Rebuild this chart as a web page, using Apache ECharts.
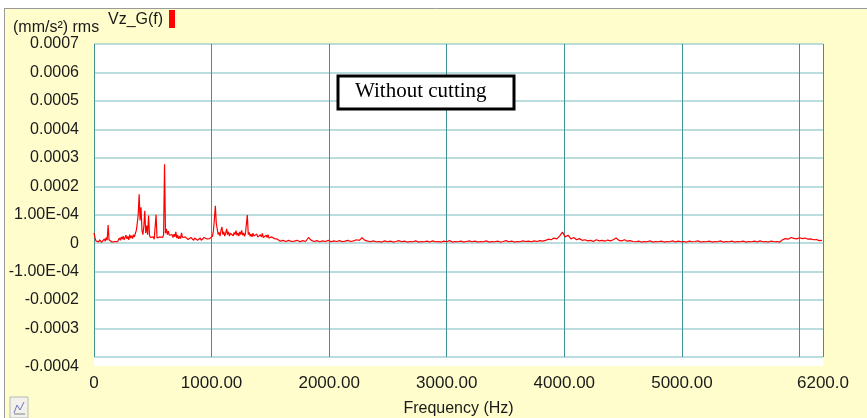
<!DOCTYPE html>
<html>
<head>
<meta charset="utf-8">
<script src="https://cdn.jsdelivr.net/npm/echarts@6/dist/echarts.min.js"></script>
<style>
  html, body { margin: 0; padding: 0; background: #ffffff; }
  #chart { width: 867px; height: 418px; }
</style>
</head>
<body>
<div id="chart"></div>
<script>
// ---- Data (amplitudes in units of 1e-4 (mm/s²) rms) ----
// Low band: FFT bins from 0 Hz, 8 Hz apart
const lowBandStartHz = 0;
const lowBandStepHz = 8;
const lowBandAmpE4 = [
  0.36,0.2,0.08,0.05,0.1,0.04,0.12,0.06,0.03,0.08,
  0.05,0.15,0.07,0.2,0.1,0.64,0.12,0.05,0.1,0.04,
  0.08,0.03,0.06,0.04,0.1,0.05,0.12,0.18,0.1,0.22,
  0.14,0.25,0.12,0.2,0.28,0.15,0.24,0.12,0.3,0.18,
  0.26,0.16,0.3,0.22,0.35,0.45,0.7,1.0,1.72,0.8,
  1.26,0.45,0.3,0.6,1.14,0.35,0.62,0.3,0.97,0.28,
  0.2,0.26,0.15,0.22,0.14,0.2,1.0,0.18,0.25,0.15,
  0.22,0.18,0.28,0.2,0.3,2.77,0.35,0.5,0.3,0.42,
  0.28,0.35,0.22,0.3,0.2,0.32,0.22,0.4,0.18,0.28,
  0.15,0.24,0.16,0.36,0.2,0.26,0.14,0.22,0.15,0.2,
  0.13,0.18,0.12,0.2,0.14,0.17,0.1,0.18,0.12,0.16,
  0.1,0.15,0.12,0.18,0.1,0.16,0.12,0.2,0.14,0.24,
  0.15,0.2,0.12,0.16,0.1,0.15,0.25,0.45,0.85,1.31,
  0.7,0.5,0.3,0.38,0.25,0.45,0.57,0.3,0.4,0.25,
  0.35,0.5,0.3,0.4,0.25,0.35,0.28,0.42,0.26,0.38,
  0.3,0.44,0.27,0.36,0.25,0.4,0.3,0.45,0.28,0.36,
  0.24,0.34,0.28,0.99,0.3,0.38,0.24,0.32,0.22,0.35,
  0.25,0.3,0.2,0.32,0.22,0.28,0.2,0.3,0.22,0.34,
  0.2,0.26,0.18,0.28,0.2,0.3,0.18,0.25,0.17,0.22,
  0.15,0.24,0.16,0.2,0.12,0.14,0.08,0.12,0.07,0.1,
  0.06,0.1,0.07,0.11,0.06,0.09,0.05,0.1,0.07,0.12,
  0.06,0.09,0.05
];
// High band: FFT bins from 1704 Hz, 24 Hz apart
const highBandStartHz = 1704;
const highBandStepHz = 24;
const highBandAmpE4 = [
  0.07,0.1,0.05,0.09,0.06,0.2,0.1,0.06,0.09,0.05,
  0.08,0.06,0.1,0.05,0.08,0.06,0.09,0.05,0.07,0.1,
  0.06,0.08,0.12,0.1,0.19,0.1,0.07,0.05,0.08,0.05,
  0.06,0.04,0.08,0.05,0.07,0.04,0.06,0.09,0.05,0.07,
  0.04,0.06,0.05,0.08,0.04,0.06,0.05,0.07,0.04,0.08,
  0.05,0.06,0.04,0.07,0.05,0.09,0.04,0.06,0.05,0.07,
  0.04,0.06,0.08,0.05,0.07,0.04,0.06,0.05,0.08,0.04,
  0.06,0.05,0.07,0.04,0.06,0.09,0.05,0.07,0.04,0.06,
  0.05,0.08,0.06,0.07,0.05,0.08,0.06,0.09,0.07,0.1,
  0.14,0.12,0.18,0.15,0.25,0.39,0.22,0.28,0.15,0.2,
  0.12,0.16,0.1,0.12,0.08,0.1,0.06,0.12,0.08,0.1,
  0.07,0.11,0.08,0.12,0.18,0.1,0.08,0.12,0.07,0.09,
  0.06,0.05,0.07,0.04,0.06,0.05,0.08,0.04,0.06,0.05,
  0.07,0.04,0.06,0.05,0.08,0.04,0.07,0.05,0.06,0.04,
  0.07,0.05,0.06,0.08,0.04,0.06,0.05,0.07,0.04,0.06,
  0.05,0.08,0.04,0.06,0.05,0.07,0.04,0.06,0.05,0.07,
  0.04,0.06,0.05,0.07,0.04,0.08,0.05,0.06,0.04,0.07,
  0.05,0.06,0.04,0.12,0.16,0.14,0.2,0.17,0.15,0.19,
  0.16,0.18,0.14,0.15,0.12,0.13,0.09,0.1
];

// ---- Axis ticks and labels ----
const yTickValues = [-4,-3,-2,-1,0,1,2,3,4,5,6,7]; // x 1e-4
const yTickLabels = ['-0.0004','-0.0003','-0.0002','-1.00E-04','0','1.00E-04','0.0002','0.0003','0.0004','0.0005','0.0006','0.0007'];
const xTickValues = [0,1000,2000,3000,4000,5000,6000,6200];
const xTickLabels = ['0','1000.00','2000.00','3000.00','4000.00','5000.00','','6200.0'];

const unitLabel = '(mm/s\u00B2) rms';
const seriesName = 'Vz_G(f)';
const xAxisName = 'Frequency (Hz)';
const noteText = 'Without cutting';

// ---- Build series points ----
const points = [];
lowBandAmpE4.forEach((a, i) => points.push([lowBandStartHz + i * lowBandStepHz, a * 1e-4]));
highBandAmpE4.forEach((a, i) => points.push([highBandStartHz + i * highBandStepHz, a * 1e-4]));

const FONT = '"Liberation Sans", Arial, sans-serif';
const chart = echarts.init(document.getElementById('chart'), null, { renderer: 'canvas' });

chart.setOption({
  animation: false,
  backgroundColor: '#FFFDCC',
  grid: {
    left: 94, right: 44, top: 44, bottom: 61,
    containLabel: false,
    outerBoundsMode: 'none',
    show: true, backgroundColor: '#ffffff', borderWidth: 0
  },
  xAxis: {
    type: 'value',
    min: 0, max: 6200, interval: 1000,
    name: xAxisName,
    nameLocation: 'middle',
    nameGap: 44,
    nameTextStyle: { fontFamily: FONT, fontSize: 16, color: '#1a1a1a' },
    axisLine: { show: false },
    axisTick: { show: true, inside: false, length: 9, lineStyle: { color: '#3E9494', width: 1 } },
    axisLabel: {
      margin: 18,
      fontFamily: FONT, fontSize: 17, color: '#1a1a1a',
      showMinLabel: true, showMaxLabel: true,
      formatter: function (v) {
        const i = xTickValues.indexOf(Math.round(v));
        return i >= 0 ? xTickLabels[i] : '';
      }
    },
    splitLine: { show: true, lineStyle: { color: '#3E9494', width: 1 } }
  },
  yAxis: {
    type: 'value',
    min: -0.0004, max: 0.0007, interval: 0.0001,
    axisLine: { show: false },
    axisTick: { show: false },
    axisLabel: {
      margin: 15,
      fontFamily: FONT, fontSize: 16, color: '#1a1a1a',
      formatter: function (v) {
        const k = Math.round(v * 1e4);
        const i = yTickValues.indexOf(k);
        const s = i >= 0 ? yTickLabels[i] : '';
        return k === -4 ? '{low|' + s + '}' : s;
      },
      rich: {
        low: { fontFamily: FONT, fontSize: 16, color: '#1a1a1a', padding: [20, 0, 0, 0] }
      }
    },
    splitLine: { show: true, lineStyle: { color: '#A3D1D1', width: 1.5 } }
  },
  series: [{
    name: seriesName,
    type: 'line',
    data: points,
    showSymbol: false,
    symbol: 'none',
    sampling: null,
    z: 5,
    lineStyle: { color: '#FF0000', width: 1.2 }
  }],
  graphic: [
    // white extension of the plot area below the lowest grid line
    { type: 'rect', z: -1, shape: { x: 94, y: 357, width: 729, height: 9 }, style: { fill: '#ffffff' } },
    // panel frame (top and left)
    { type: 'rect', z: 10, shape: { x: 0, y: 0, width: 867, height: 8 }, style: { fill: '#ffffff' } },
    { type: 'rect', z: 10, shape: { x: 0, y: 0, width: 4, height: 418 }, style: { fill: '#ffffff' } },
    { type: 'line', z: 10, shape: { x1: 4, y1: 8.5, x2: 867, y2: 8.5 }, style: { stroke: '#9a9a9a', lineWidth: 1 } },
    { type: 'line', z: 10, shape: { x1: 4.5, y1: 8, x2: 4.5, y2: 418 }, style: { stroke: '#9a9a9a', lineWidth: 1 } },
    // header texts
    { type: 'text', z: 10, left: 13, top: 20, style: { text: unitLabel, font: '16px ' + FONT, fill: '#1a1a1a' } },
    { type: 'text', z: 10, left: 108, top: 12, style: { text: seriesName, font: '16px ' + FONT, fill: '#1a1a1a' } },
    { type: 'rect', z: 10, shape: { x: 169, y: 10, width: 6, height: 18 }, style: { fill: '#FF0000' } },
    // annotation box
    { type: 'rect', z: 10, shape: { x: 338, y: 76, width: 176, height: 33 }, style: { fill: '#ffffff', stroke: '#000000', lineWidth: 3 } },
    { type: 'text', z: 11, left: 355, top: 81, style: { text: noteText, font: '21px "Liberation Serif", "Times New Roman", serif', fill: '#000000' } },
    // small icon bottom-left
    { type: 'rect', z: 10, shape: { x: 10, y: 397, width: 18, height: 21 }, style: { fill: '#f2f2ea', stroke: '#b8b8b8', lineWidth: 1 } },
    { type: 'polyline', z: 11, shape: { points: [[14, 413], [17, 405], [20, 410], [24, 402]] }, style: { stroke: '#7070c0', lineWidth: 1, fill: null } },
    { type: 'line', z: 11, shape: { x1: 14, y1: 414, x2: 25, y2: 414 }, style: { stroke: '#808080', lineWidth: 1 } }
  ]
});
</script>
</body>
</html>
